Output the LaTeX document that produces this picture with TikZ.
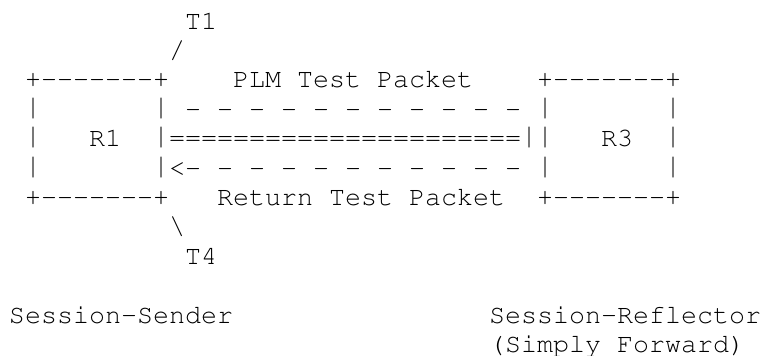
\documentclass[tikz,border=0pt]{standalone}
\usepackage[T1]{fontenc}
\usepackage{graphicx}
\begin{document}
\begin{tikzpicture}[x=1pt,y=1pt,
  glyphs/.style={font=\fontfamily{pcr}\fontsize{26.67pt}{29.4pt}\selectfont,
                 anchor=base west, inner sep=0pt, outer sep=0pt, text=black}]
% character grid: column c starts at 9+16c, row r has its baseline at 29+29.4r (downwards)
\newcommand\gridpos[2]{({9+16*#1},{-29-29.4*#2})}
% a run of hyphens that never turns into en or em dashes
\newcommand\hy{-{}}
% a vertical bar stretched to fill its whole text line, so stacked bars join up
\newcommand\tallbar{\raisebox{-5.5pt}{\resizebox{\width}{28.5pt}{\raisebox{\depth}{|}}}}
\useasboundingbox[fill=white] (0,0) rectangle (763,-356);

% timestamps at the sender
\node[glyphs] (t1)      at \gridpos{11}{0} {T1};
\node[glyphs] (t1tick)  at \gridpos{10}{1} {/};
\node[glyphs] (t4tick)  at \gridpos{10}{7} {\textbackslash};
\node[glyphs] (t4)      at \gridpos{11}{8} {T4};

% box R1
\node[glyphs] (r1top)   at \gridpos{1}{2} {+\hy\hy\hy\hy\hy\hy\hy+};
\node[glyphs] (r1l3)    at \gridpos{1}{3} {\tallbar};
\node[glyphs] (r1r3)    at \gridpos{9}{3} {\tallbar};
\node[glyphs] (r1l4)    at \gridpos{1}{4} {\tallbar};
\node[glyphs] (r1)      at \gridpos{5}{4} {R1};
\node[glyphs] (r1l5)    at \gridpos{1}{5} {\tallbar};
\node[glyphs] (r1bot)   at \gridpos{1}{6} {+\hy\hy\hy\hy\hy\hy\hy+};

% box R3
\node[glyphs] (r3top)   at \gridpos{33}{2} {+\hy\hy\hy\hy\hy\hy\hy+};
\node[glyphs] (r3l3)    at \gridpos{33}{3} {\tallbar};
\node[glyphs] (r3r3)    at \gridpos{41}{3} {\tallbar};
\node[glyphs] (r3)      at \gridpos{37}{4} {R3};
\node[glyphs] (r3r4)    at \gridpos{41}{4} {\tallbar};
\node[glyphs] (r3l5)    at \gridpos{33}{5} {\tallbar};
\node[glyphs] (r3r5)    at \gridpos{41}{5} {\tallbar};
\node[glyphs] (r3bot)   at \gridpos{33}{6} {+\hy\hy\hy\hy\hy\hy\hy+};

% packet paths between the boxes
\node[glyphs] (plm)     at \gridpos{14}{2} {PLM Test Packet};
\node[glyphs] (fwd)     at \gridpos{11}{3} {- - - - - - - - - - -};
\node[glyphs] (link)    at \gridpos{9}{4}  {\tallbar======================\tallbar\tallbar};
\node[glyphs] (back)    at \gridpos{9}{5}  {\tallbar<\hy{} - - - - - - - - - -};
\node[glyphs] (ret)     at \gridpos{13}{6} {Return Test Packet};

% roles
\node[glyphs] (sender)  at \gridpos{0}{10}  {Session\hy Sender};
\node[glyphs] (refl)    at \gridpos{30}{10} {Session\hy Reflector};
\node[glyphs] (simply)  at \gridpos{30}{11} {(Simply Forward)};
\end{tikzpicture}
\end{document}
